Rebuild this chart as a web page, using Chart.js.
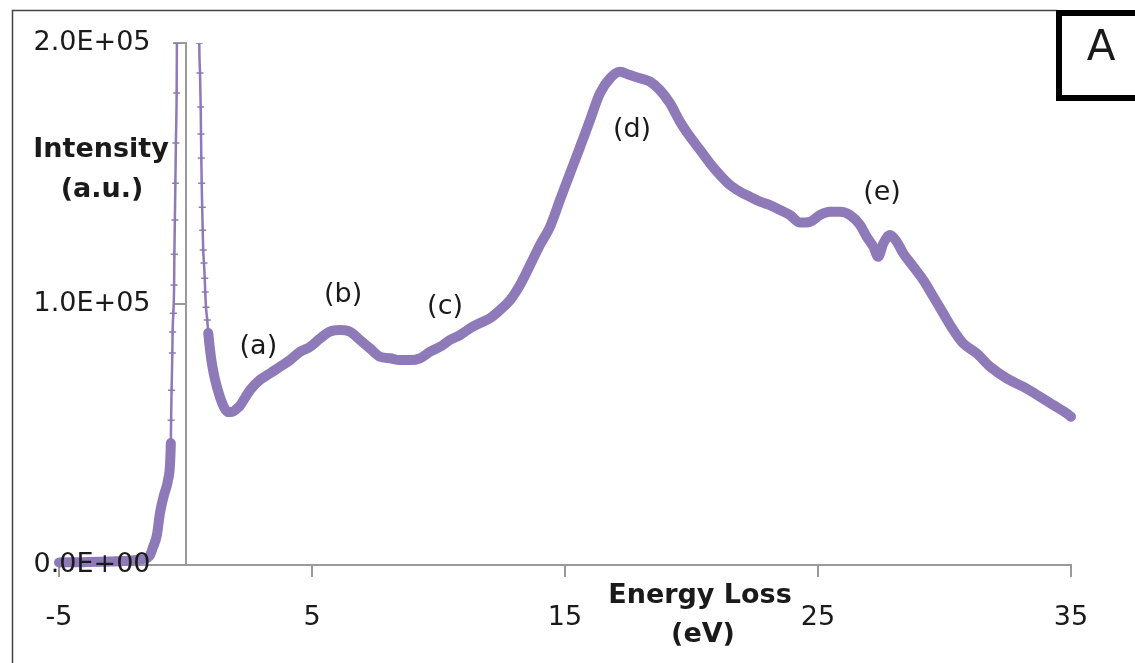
<!DOCTYPE html>
<html>
<head>
<meta charset="utf-8">
<script src="https://cdn.jsdelivr.net/npm/chart.js@4.4.1/dist/chart.umd.min.js"></script>
<style>
  html, body { margin: 0; padding: 0; background: #ffffff; }
  #wrap { position: relative; width: 1135px; height: 663px; }
</style>
</head>
<body>
<div id="wrap"><canvas id="c"></canvas></div>
<script>
// ---- data ----
const energy = [
  -5, -4, -3, -2.3, -1.8, -1.52, -1.40, -1.28, -1.13, -1.01, -0.85, -0.69,
  -0.58, -0.57, -0.55, -0.52, -0.51, -0.48, -0.45, -0.44, -0.42, -0.40, -0.38, -0.35, -0.34,
  0.10,
  0.545, 0.573, 0.60, 0.613, 0.625, 0.64, 0.66, 0.68, 0.70, 0.73, 0.76, 0.78, 0.81, 0.86, 0.90,
  0.97, 1.04, 1.17, 1.36, 1.52, 1.68, 1.84, 2.02, 2.15, 2.55, 2.94, 3.34, 3.74, 4.13, 4.53,
  4.92, 5.32, 5.71, 6.11, 6.50, 6.90, 7.29, 7.69, 8.08, 8.48, 8.87, 9.27, 9.66, 10.06,
  10.45, 10.85, 11.25, 11.64, 12.04, 12.43, 12.83, 13.22, 13.62, 14.01, 14.41, 14.80,
  15.20, 15.60, 15.99, 16.38, 16.78, 17.17, 17.57, 17.96, 18.36, 18.75, 19.15, 19.55,
  19.94, 20.34, 20.73, 21.13, 21.52, 21.92, 22.31, 22.71, 23.10, 23.50, 23.89, 24.29,
  24.68, 25.08, 25.47, 25.87, 26.26, 26.66, 26.92, 27.19, 27.38, 27.58, 27.85, 28.11,
  28.37, 28.77, 29.16, 29.56, 29.95, 30.35, 30.74, 31.27, 31.80, 32.46, 33.11, 33.77,
  34.30, 34.83, 35.0
];
const intensity = [
  1000, 1100, 1300, 1600, 2100, 2700, 3800, 6900, 11500, 19900, 26800, 32600,
  46700, 55500, 67000, 81200, 89300, 96500, 107300, 119100, 132200, 146300, 161700, 180800, 200000,
  1000000,
  200000, 188500, 175500, 165100, 155900, 146300, 137100, 128300, 120700, 115700, 109900, 104600, 98800, 93900, 88900,
  82400, 77400, 70900, 64400, 60500, 58600, 58600, 59800, 61000, 67000, 70900, 73400, 76000, 78500, 81700,
  83600, 86800, 89400, 90000, 89400, 86200, 83000, 79800, 79200, 78500, 78500, 79200, 81700, 83600,
  86200, 88100, 90700, 92700, 94600, 97700, 101500, 107300, 114900, 122600, 129600, 139800,
  150100, 160300, 170500, 180700, 186500, 189000, 187700, 186500, 185200, 182000, 176900, 169800,
  164100, 159000, 153900, 149400, 145600, 143000, 141100, 139200, 137900, 136000, 134100, 131200,
  131500, 134100, 135300, 135300, 134100, 130300, 125800, 121900, 118100, 123200, 126400, 123900,
  119400, 114300, 109200, 102800, 96400, 90000, 84900, 81100, 76000, 71500, 68300, 64500,
  61300, 58100, 56800
];
const xTicks = [-5, 5, 15, 25, 35];
const yTicks = [0, 100000, 200000];
const yTickLabels = ['0.0E+00', '1.0E+05', '2.0E+05'];
const peakNames = ['(a)', '(b)', '(c)', '(d)', '(e)'];
const peakEnergy = [2.88, 6.23, 10.26, 17.65, 27.53];
const peakIntensity = [83500, 103400, 98800, 166600, 142500];
const xTitleLines = ['Energy Loss', '(eV)'];
const yTitleLines = ['Intensity', '(a.u.)'];
const panelLabel = 'A';

// ---- styling ----
const PURPLE = '#8e79b9';
const AXIS = '#9a9a9a';
const TEXT = '#1a1a1a';
const FONT = 'DejaVu Sans';

const points = energy.map((x, i) => ({ x: x, y: intensity[i] }));
const isSteep = (x, y) => x > -0.7 && x < 0.95 && y > 45000;

// y axis sits at x = 0; move its labels out past the tick marks + padding
const shiftYLabels = {
  id: 'shiftYLabels',
  beforeDraw(chart) {
    const s = chart.scales.y;
    const shift = s.options.grid.tickLength + s.options.ticks.padding;
    const items = s.getLabelItems(chart.chartArea);
    items.forEach(it => {
      if (!it._shifted) { it.options.translation[0] -= shift; it._shifted = true; }
    });
  }
};

const overlay = {
  id: 'overlay',
  afterDraw(chart) {
    const ctx = chart.ctx;
    const xs = chart.scales.x, ys = chart.scales.y;
    ctx.save();
    // outer frame (left and top)
    ctx.strokeStyle = '#444444';
    ctx.lineWidth = 1.5;
    ctx.beginPath();
    ctx.moveTo(12.5, 663);
    ctx.lineTo(12.5, 10.5);
    ctx.lineTo(1057, 10.5);
    ctx.stroke();
    // panel label box
    ctx.fillStyle = '#ffffff';
    ctx.fillRect(1059, 13, 90, 85);
    ctx.strokeStyle = '#000000';
    ctx.lineWidth = 6;
    ctx.strokeRect(1059, 13, 100, 85);
    ctx.fillStyle = TEXT;
    ctx.textAlign = 'center';
    ctx.textBaseline = 'middle';
    ctx.font = '42px "' + FONT + '"';
    ctx.fillText(panelLabel, 1101, 49);
    // axis titles
    ctx.font = 'bold 27px "' + FONT + '"';
    ctx.fillText(yTitleLines[0], 101, 150);
    ctx.fillText(yTitleLines[1], 102, 190);
    ctx.fillText(xTitleLines[0], 700, 596);
    ctx.fillText(xTitleLines[1], 703, 635);
    // peak labels
    ctx.font = '27px "' + FONT + '"';
    peakNames.forEach((t, i) => {
      ctx.fillText(t, xs.getPixelForValue(peakEnergy[i]), ys.getPixelForValue(peakIntensity[i]));
    });
    ctx.restore();
  }
};

new Chart(document.getElementById('c'), {
  type: 'line',
  data: {
    datasets: [{
      data: points,
      borderColor: PURPLE,
      backgroundColor: PURPLE,
      borderWidth: 10,
      borderCapStyle: 'round',
      borderJoinStyle: 'round',
      cubicInterpolationMode: 'monotone',
      clip: { left: 10, right: 10, top: 0, bottom: 10 },
      pointStyle: 'cross',
      pointRadius: (c) => {
        const p = c.raw;
        return p && isSteep(p.x, p.y) && p.y <= 200000 ? 3.5 : 0;
      },
      pointBorderWidth: 1.5,
      pointBorderColor: PURPLE,
      segment: {
        borderWidth: (c) => (isSteep(c.p0.parsed.x, c.p0.parsed.y) && isSteep(c.p1.parsed.x, c.p1.parsed.y)) ? 2.5 : 10
      }
    }]
  },
  options: {
    responsive: true,
    maintainAspectRatio: false,
    animation: false,
    events: [],
    layout: { padding: { top: 43, left: 59, right: 64, bottom: 0 } },
    plugins: { legend: { display: false }, tooltip: { enabled: false } },
    scales: {
      x: {
        type: 'linear',
        min: -5,
        max: 35,
        afterBuildTicks: (s) => { s.ticks = xTicks.map(v => ({ value: v })); },
        afterFit: (s) => { s.height = 98; },
        grid: { drawOnChartArea: false, drawTicks: true, tickLength: 12, color: AXIS, lineWidth: 2 },
        border: { color: AXIS, width: 2 },
        ticks: {
          font: { family: FONT, size: 27 },
          color: TEXT,
          padding: 25,
          maxRotation: 0,
          autoSkip: false,
          callback: (v) => String(v)
        }
      },
      y: {
        type: 'linear',
        min: 0,
        max: 200000,
        position: { x: 0 },
        afterBuildTicks: (s) => { s.ticks = yTicks.map(v => ({ value: v })); },
        grid: { drawOnChartArea: false, drawTicks: true, tickLength: 12, color: AXIS, lineWidth: 2 },
        border: { color: AXIS, width: 2 },
        ticks: {
          font: { family: FONT, size: 27 },
          color: TEXT,
          padding: 23,
          z: 1,
          callback: (v) => yTickLabels[yTicks.indexOf(v)]
        }
      }
    }
  },
  plugins: [shiftYLabels, overlay]
});
</script>
</body>
</html>
